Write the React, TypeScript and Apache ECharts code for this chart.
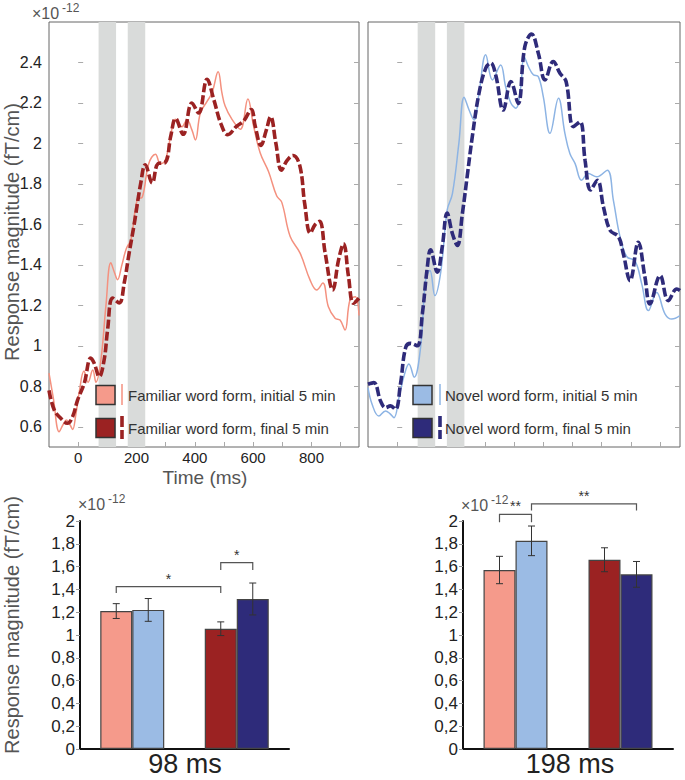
import React, { useEffect, useRef } from "react";
import * as echarts from "echarts";

// ---------- time courses (time in ms, magnitude ×10^-12 fT/cm) ----------
const familiarInitial: [number, number][] = [
  [-100, 0.865], [-85, 0.74], [-65, 0.575], [-52, 0.61], [-40, 0.633], [-28, 0.61], [-19, 0.587],
  [-8, 0.66], [3, 0.765], [20, 0.875], [34, 0.82], [50, 0.88], [61, 0.82], [78, 0.93], [95, 1.195],
  [112, 1.41], [125, 1.36], [135, 1.327], [150, 1.4], [165, 1.48], [181, 1.525], [203, 1.724],
  [220, 1.735], [242, 1.9], [265, 1.947], [282, 1.9], [299, 1.917], [322, 2.075], [333, 2.12],
  [356, 2.083], [373, 2.117], [390, 2.067], [402, 2.017], [419, 2.15], [442, 2.208], [459, 2.25],
  [480, 2.354], [493, 2.25], [504, 2.185], [527, 2.12], [556, 2.07], [582, 2.22], [601, 2.09],
  [624, 1.954], [653, 1.86], [681, 1.74], [698, 1.71], [727, 1.54], [761, 1.458], [795, 1.326],
  [818, 1.276], [839, 1.31], [858, 1.193], [881, 1.136], [898, 1.127], [915, 1.078], [932, 1.226],
  [950, 1.243], [963, 1.15],
];
const familiarFinal: [number, number][] = [
  [-100, 0.78], [-82, 0.683], [-59, 0.641], [-37, 0.617], [-19, 0.65], [-2, 0.732], [21, 0.815],
  [43, 0.939], [55, 0.914], [72, 0.848], [89, 0.93], [101, 1.08], [118, 1.236], [141, 1.212],
  [158, 1.311], [175, 1.46], [192, 1.6], [215, 1.807], [230, 1.895], [254, 1.805], [274, 1.9],
  [298, 1.905], [318, 2.04], [334, 2.123], [360, 2.045], [390, 2.2], [413, 2.15], [442, 2.317],
  [465, 2.217], [490, 2.095], [513, 2.043], [544, 2.086], [567, 2.11], [594, 2.168], [607, 2.086],
  [627, 1.99], [644, 2.06], [660, 2.132], [678, 2.0], [697, 1.868], [716, 1.915], [737, 1.94],
  [760, 1.89], [777, 1.7], [796, 1.557], [813, 1.6], [828, 1.615], [847, 1.458], [873, 1.276],
  [893, 1.425], [910, 1.504], [927, 1.342], [944, 1.21], [963, 1.235],
];
const novelInitial: [number, number][] = [
  [-100, 0.793], [-86, 0.711], [-63, 0.653], [-40, 0.678], [-25, 0.665], [-11, 0.645], [6, 0.744],
  [25, 0.86], [40, 0.91], [58, 0.845], [80, 0.992], [97, 1.322], [112, 1.372], [129, 1.248],
  [149, 1.364], [171, 1.67], [189, 1.752], [211, 2.0], [229, 2.228], [246, 2.165], [263, 2.116],
  [280, 2.248], [303, 2.438], [326, 2.314], [354, 2.388], [371, 2.281], [389, 2.2], [406, 2.174],
  [423, 2.28], [434, 2.43], [449, 2.38], [466, 2.339], [483, 2.33], [500, 2.231], [523, 2.05],
  [552, 2.223], [574, 2.05], [591, 1.95], [609, 1.9], [631, 1.818], [654, 1.851], [683, 1.835],
  [719, 1.868], [740, 1.719], [763, 1.537], [786, 1.44], [814, 1.42], [837, 1.306], [860, 1.174],
  [888, 1.264], [917, 1.157], [940, 1.132], [968, 1.149],
];
const novelFinal: [number, number][] = [
  [-100, 0.81], [-80, 0.818], [-57, 0.727], [-40, 0.694], [-23, 0.703], [-6, 0.686], [11, 0.81],
  [29, 0.992], [46, 1.012], [69, 1.0], [86, 1.157], [103, 1.388], [114, 1.474], [137, 1.364],
  [154, 1.488], [171, 1.656], [189, 1.554], [206, 1.496], [223, 1.653], [240, 1.843], [257, 2.033],
  [280, 2.248], [303, 2.372], [320, 2.397], [337, 2.339], [363, 2.165], [389, 2.306], [414, 2.198],
  [437, 2.48], [460, 2.54], [483, 2.446], [506, 2.314], [534, 2.405], [557, 2.347], [578, 2.306],
  [603, 2.083], [626, 2.107], [643, 1.917], [662, 1.77], [685, 1.818], [706, 1.686], [729, 1.57],
  [757, 1.54], [774, 1.455], [797, 1.322], [825, 1.512], [848, 1.339], [865, 1.207], [900, 1.347],
  [928, 1.223], [957, 1.281], [968, 1.273],
];

const analysisWindows: [number, number][] = [[70, 130], [170, 230]];
const timeTicks = [0, 100, 200, 300, 400, 500, 600, 700, 800, 900];
const timeLabels = [0, 200, 400, 600, 800];
const magnitudeTicks = [0.6, 0.8, 1, 1.2, 1.4, 1.6, 1.8, 2, 2.2, 2.4];

// ---------- bar charts ----------
const conditions = ["initial 5 min", "final 5 min"];
const familiar98 = [1.21, 1.055];
const familiar98Err = [0.065, 0.06];
const novel98 = [1.22, 1.316];
const novel98Err = [0.1, 0.14];
const familiar198 = [1.57, 1.66];
const familiar198Err = [0.12, 0.105];
const novel198 = [1.826, 1.532];
const novel198Err = [0.13, 0.113];

// significance brackets: [categoryA, sideA, categoryB, sideB, level, drop]
const sig98: number[][] = [
  [0, -1, 1, -1, 1.424, 0.056],
  [1, -1, 1, 1, 1.634, 0.064],
];
const sig98Labels = ["*", "*"];
const sig198: number[][] = [
  [0, -1, 0, 1, 2.058, 0.068],
  [0, 1, 1, 1, 2.151, 0.058],
];
const sig198Labels = ["**", "**"];

const COL = {
  famInit: "#F59A8B",
  famFinal: "#9B2222",
  novInit: "#9BBBE4",
  novFinal: "#2E2B7A",
  famInitLine: "#F4917F",
  novInitLine: "#8DB4E4",
};
const FONT = "'Liberation Sans', Arial, Helvetica, sans-serif";
const BAR_W = 32;

function topX(gi: number, max: number, labels: boolean) {
  return {
    type: "value", gridIndex: gi, min: -100, max,
    axisLine: { show: false },
    axisTick: { show: true, inside: true, length: 5, customValues: timeTicks, lineStyle: { color: "#aaa" } },
    axisLabel: { show: labels, customValues: timeLabels, fontSize: 15, color: "#222", margin: 3, fontFamily: FONT },
    splitLine: { show: false },
  };
}
function topY(gi: number, pos: string, labels: boolean) {
  return {
    type: "value", gridIndex: gi, position: pos, min: 0.5, max: 2.6,
    axisLine: { show: false },
    axisTick: { show: true, inside: true, length: 5, customValues: magnitudeTicks, lineStyle: { color: "#aaa" } },
    axisLabel: {
      show: labels, customValues: magnitudeTicks, fontSize: 16, color: "#222", margin: 7, fontFamily: FONT,
      formatter: (v: number) => String(Math.round(v * 10) / 10),
    },
    splitLine: { show: false },
  };
}
function barY(gi: number) {
  return {
    type: "value", gridIndex: gi, min: 0, max: 2, interval: 0.2,
    axisLine: { show: true, lineStyle: { color: "#111", width: 2 } },
    axisTick: { show: true, length: 4, lineStyle: { color: "#999" } },
    axisLabel: {
      fontSize: 17, color: "#222", margin: 5, fontFamily: FONT,
      formatter: (v: number) => String(Math.round(v * 10) / 10).replace(".", ","),
    },
    splitLine: { show: false },
  };
}
function barX(gi: number) {
  return {
    type: "category", gridIndex: gi, data: conditions,
    axisLine: { show: true, lineStyle: { color: "#111", width: 2 } },
    axisTick: { show: false }, axisLabel: { show: false },
  };
}
function lineSeries(xi: number, data: [number, number][], color: string, dashed: boolean) {
  return {
    type: "line", xAxisIndex: xi, yAxisIndex: xi * 2, data, smooth: 0.4, symbol: "none", z: dashed ? 4 : 3,
    lineStyle: dashed ? { color, width: 3.6, type: [9, 3] } : { color, width: 1.5 },
  };
}
function bandSeries(xi: number) {
  return {
    type: "line", xAxisIndex: xi, yAxisIndex: xi * 2, data: [], z: 1, silent: true,
    markArea: {
      silent: true, itemStyle: { color: "#D9DBDA" },
      data: analysisWindows.map(([a, b]) => [{ xAxis: a }, { xAxis: b }]),
    },
  };
}
function barSeries(xi: number, yi: number, vals: number[], colors: string[]) {
  return {
    type: "bar", xAxisIndex: xi, yAxisIndex: yi, barWidth: BAR_W, barGap: "0%", z: 2,
    data: vals.map((v, i) => ({ value: v, itemStyle: { color: colors[i] } })),
    itemStyle: { borderColor: "#444", borderWidth: 1.2 },
  };
}
function errSeries(xi: number, yi: number, vals: number[], errs: number[], side: number) {
  return {
    type: "custom", xAxisIndex: xi, yAxisIndex: yi, z: 5, clip: false, silent: true,
    encode: { x: 0, y: 1 },
    data: vals.map((v, i) => [i, v, errs[i]]),
    renderItem: (_p: any, api: any) => {
      const i = api.value(0), v = api.value(1), e = api.value(2);
      const x = api.coord([i, v])[0] + side * BAR_W / 2;
      const yt = api.coord([i, v + e])[1];
      const yb = api.coord([i, v - e])[1];
      const st = { stroke: "#333", lineWidth: 1 };
      return {
        type: "group",
        children: [
          { type: "line", shape: { x1: x, y1: yt, x2: x, y2: yb }, style: st },
          { type: "line", shape: { x1: x - 3.5, y1: yt, x2: x + 3.5, y2: yt }, style: st },
          { type: "line", shape: { x1: x - 3.5, y1: yb, x2: x + 3.5, y2: yb }, style: st },
        ],
      };
    },
  };
}
function sigSeries(xi: number, yi: number, sig: number[][], labels: string[]) {
  return {
    type: "custom", xAxisIndex: xi, yAxisIndex: yi, z: 6, clip: false, silent: true,
    encode: { x: 0, y: 4 },
    data: sig,
    renderItem: (p: any, api: any) => {
      const lvl = api.value(4), drop = api.value(5);
      const xa = api.coord([api.value(0), lvl])[0] + api.value(1) * BAR_W / 2;
      const xb = api.coord([api.value(2), lvl])[0] + api.value(3) * BAR_W / 2;
      const y = api.coord([0, lvl])[1];
      const yd = api.coord([0, lvl - drop])[1];
      return {
        type: "group",
        children: [
          { type: "polyline", shape: { points: [[xa, yd], [xa, y], [xb, y], [xb, yd]] }, style: { stroke: "#555", lineWidth: 1.2, fill: null } },
          { type: "text", x: (xa + xb) / 2, y: y - 1, style: { text: labels[p.dataIndex], fontSize: 14, fill: "#333", align: "center", verticalAlign: "bottom", fontFamily: FONT } },
        ],
      };
    },
  };
}

function legendGraphics(boxX: number, lineX: number, textX: number, labels: string[], colors: string[], lineColors: string[]) {
  const rows = [395, 428];
  const els: any[] = [];
  rows.forEach((cy, r) => {
    els.push({ type: "rect", z: 100, shape: { x: boxX, y: cy - 9.5, width: 19, height: 19 }, style: { fill: colors[r], stroke: "#333", lineWidth: 1.5 } });
    if (r === 0) {
      els.push({ type: "line", z: 100, shape: { x1: lineX, y1: cy - 11, x2: lineX, y2: cy + 10 }, style: { stroke: lineColors[r], lineWidth: 1.5 } });
    } else {
      els.push({ type: "line", z: 100, shape: { x1: lineX, y1: cy - 12, x2: lineX, y2: cy + 11 }, style: { stroke: lineColors[r], lineWidth: 3.6, lineDash: [11, 3] } });
    }
    els.push({ type: "text", z: 100, x: textX, y: cy, style: { text: labels[r], fontSize: 15, fill: "#333", verticalAlign: "middle", fontFamily: FONT } });
  });
  return els;
}
function exponent(x: number, y: number) {
  return [
    { type: "text", z: 100, x, y, style: { text: "×10", fontSize: 16, fill: "#555", verticalAlign: "middle", fontFamily: FONT } },
    { type: "text", z: 100, x: x + 30, y: y - 5, style: { text: "-12", fontSize: 12, fill: "#555", verticalAlign: "middle", fontFamily: FONT } },
  ];
}

export default function App() {
  const ref = useRef<HTMLDivElement>(null);
  useEffect(() => {
    if (!ref.current) return;
    const chart = echarts.init(ref.current, undefined, { renderer: "svg" });
    const option: any = {
      animation: false,
      backgroundColor: "#fff",
      textStyle: { fontFamily: FONT },
      grid: [
        { left: 49, top: 22, width: 310, height: 425, show: true, borderColor: "#666", borderWidth: 1, backgroundColor: "transparent" },
        { left: 368, top: 22, width: 312, height: 425, show: true, borderColor: "#666", borderWidth: 1, backgroundColor: "transparent" },
        { left: 80, top: 521, width: 209, height: 228 },
        { left: 463, top: 521, width: 210, height: 228 },
      ],
      xAxis: [topX(0, 963, true), topX(1, 968, false), barX(2), barX(3)],
      yAxis: [topY(0, "left", true), topY(0, "right", false), topY(1, "left", false), topY(1, "right", false), barY(2), barY(3)],
      series: [
        bandSeries(0),
        bandSeries(1),
        lineSeries(0, familiarInitial, COL.famInitLine, false),
        lineSeries(0, familiarFinal, COL.famFinal, true),
        lineSeries(1, novelInitial, COL.novInitLine, false),
        lineSeries(1, novelFinal, COL.novFinal, true),
        barSeries(2, 4, familiar98, [COL.famInit, COL.famFinal]),
        barSeries(2, 4, novel98, [COL.novInit, COL.novFinal]),
        errSeries(2, 4, familiar98, familiar98Err, -1),
        errSeries(2, 4, novel98, novel98Err, 1),
        sigSeries(2, 4, sig98, sig98Labels),
        barSeries(3, 5, familiar198, [COL.famInit, COL.famFinal]),
        barSeries(3, 5, novel198, [COL.novInit, COL.novFinal]),
        errSeries(3, 5, familiar198, familiar198Err, -1),
        errSeries(3, 5, novel198, novel198Err, 1),
        sigSeries(3, 5, sig198, sig198Labels),
      ],
      graphic: [
        ...exponent(32, 13),
        ...exponent(78, 504),
        ...exponent(461, 505),
        { type: "text", z: 100, x: 12, y: 232, rotation: Math.PI / 2, style: { text: "Response magnitude (fT/cm)", fontSize: 20, fill: "#555", align: "center", verticalAlign: "middle", fontFamily: FONT } },
        { type: "text", z: 100, x: 12, y: 625, rotation: Math.PI / 2, style: { text: "Response magnitude (fT/cm)", fontSize: 20, fill: "#555", align: "center", verticalAlign: "middle", fontFamily: FONT } },
        { type: "text", z: 100, x: 205, y: 477, style: { text: "Time (ms)", fontSize: 19, fill: "#555", align: "center", verticalAlign: "middle", fontFamily: FONT } },
        { type: "text", z: 100, x: 185, y: 764, style: { text: "98 ms", fontSize: 27, fill: "#222", align: "center", verticalAlign: "middle", fontFamily: FONT } },
        { type: "text", z: 100, x: 570, y: 764, style: { text: "198 ms", fontSize: 27, fill: "#222", align: "center", verticalAlign: "middle", fontFamily: FONT } },
        ...legendGraphics(96, 122, 128, ["Familiar word form, initial 5 min", "Familiar word form, final 5 min"], [COL.famInit, COL.famFinal], [COL.famInitLine, COL.famFinal]),
        ...legendGraphics(413, 440, 445, ["Novel word form, initial 5 min", "Novel word form, final 5 min"], [COL.novInit, COL.novFinal], [COL.novInitLine, COL.novFinal]),
      ],
    };
    chart.setOption(option);
    return () => chart.dispose();
  }, []);
  return <div ref={ref} style={{ position: "absolute", left: 0, top: 0, width: 685, height: 780 }} />;
}
